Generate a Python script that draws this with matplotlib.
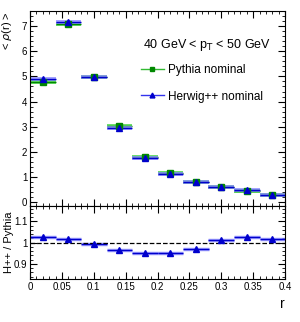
import matplotlib
matplotlib.use("Agg")
import matplotlib.pyplot as plt
from matplotlib.lines import Line2D
from matplotlib.ticker import MultipleLocator

plt.rcParams['font.family'] = ['Liberation Sans', 'DejaVu Sans']

r_centres = [0.02, 0.06, 0.10, 0.14, 0.18, 0.22, 0.26, 0.30, 0.34, 0.38]
r_halfwidth = 0.02
pythia = [4.78, 7.07, 4.99, 3.02, 1.80, 1.15, 0.82, 0.60, 0.45, 0.28]
herwig = [4.90, 7.17, 4.97, 2.95, 1.75, 1.12, 0.80, 0.61, 0.47, 0.29]
ratio = [1.027, 1.015, 0.992, 0.964, 0.950, 0.953, 0.972, 1.012, 1.026, 1.015]

green_dark = "#008800"
green_light = "#66dd66"
blue_dark = "#0000cc"
blue_light = "#8888ff"

fig = plt.figure(figsize=(3.0, 3.22), dpi=100)
ax = fig.add_axes([0.10, 0.360, 0.85, 0.606])
axr = fig.add_axes([0.10, 0.134, 0.85, 0.226], sharex=ax)

# top panel
ax.errorbar(r_centres, pythia, xerr=r_halfwidth, fmt='none', ecolor=green_light, elinewidth=2.8, capsize=0)
ax.errorbar(r_centres, pythia, xerr=r_halfwidth, fmt='s', color=green_dark, ecolor=green_dark,
            elinewidth=1.0, capsize=0, markersize=4.5)
ax.errorbar(r_centres, herwig, xerr=r_halfwidth, fmt='none', ecolor=blue_light, elinewidth=2.8, capsize=0, alpha=0.8)
ax.errorbar(r_centres, herwig, xerr=r_halfwidth, fmt='^', color=blue_dark, ecolor=blue_dark,
            elinewidth=1.0, capsize=0, markersize=4.5)

ax.set_xlim(0, 0.4)
ax.set_ylim(-0.15, 7.6)
ax.yaxis.set_major_locator(MultipleLocator(1))
ax.yaxis.set_minor_locator(MultipleLocator(0.2))
ax.xaxis.set_major_locator(MultipleLocator(0.05))
ax.xaxis.set_minor_locator(MultipleLocator(0.01))
ax.tick_params(labelbottom=False)
ax.set_ylabel(r"< $\rho$(r) >", fontsize=8, loc='top')
ax.yaxis.set_label_coords(-0.062, 1.0)

ax.text(0.443, 0.825, r"40 GeV < p$_{\rm T}$ < 50 GeV", transform=ax.transAxes, fontsize=9, va='center')
handles = [
    Line2D([], [], color="#33bb33", marker='s', markerfacecolor=green_dark, markeredgecolor=green_dark,
           markersize=3.5, linewidth=1.0),
    Line2D([], [], color="#3333ee", marker='^', markerfacecolor=blue_dark, markeredgecolor=blue_dark,
           markersize=3.5, linewidth=1.0),
]
ax.legend(handles, ["Pythia nominal", "Herwig++ nominal"], loc='upper left',
          bbox_to_anchor=(0.415, 0.75), frameon=False, fontsize=8.5,
          handlelength=2.0, handletextpad=0.35, labelspacing=1.2, borderaxespad=0)

# ratio panel
axr.errorbar(r_centres, ratio, xerr=r_halfwidth, fmt='none', ecolor=blue_light, elinewidth=2.5, capsize=0, alpha=0.8)
axr.errorbar(r_centres, ratio, xerr=r_halfwidth, fmt='^', color=blue_dark, ecolor=blue_dark,
             elinewidth=1.0, capsize=0, markersize=4.0)
axr.axhline(1.0, color='black', linestyle='--', linewidth=0.9)
axr.set_ylim(0.83, 1.172)
axr.yaxis.set_minor_locator(MultipleLocator(0.02))
axr.set_yticks([0.9, 1.0, 1.1])
axr.set_yticklabels(["0.9", "1", "1.1"])
axr.set_xticks([0, 0.05, 0.1, 0.15, 0.2, 0.25, 0.3, 0.35, 0.4])
axr.set_xticklabels(["0", "0.05", "0.1", "0.15", "0.2", "0.25", "0.3", "0.35", "0.4"])
axr.set_ylabel("H++ / Pythia", fontsize=8)
axr.yaxis.set_label_coords(-0.062, 0.5)
axr.set_xlabel("r", fontsize=10, loc='right')

for a in (ax, axr):
    a.tick_params(which='both', direction='in', top=True, right=True, labelsize=7, pad=2)
    a.tick_params(which='major', length=5)
    a.tick_params(which='minor', length=2.5)

fig.savefig("out.png", dpi=100)
